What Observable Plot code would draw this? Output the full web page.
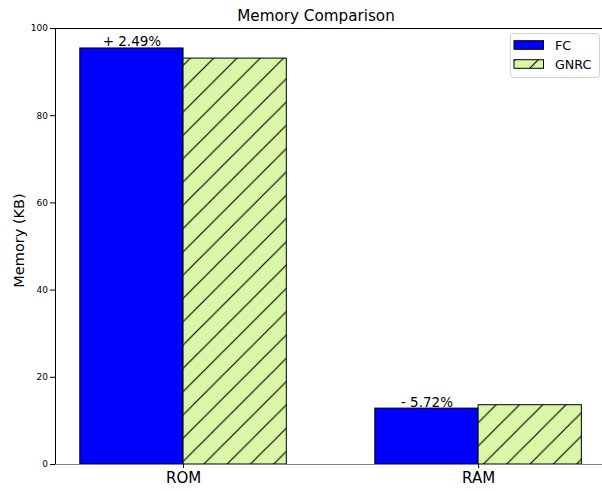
<!DOCTYPE html>
<html>
<head>
<meta charset="utf-8">
<script src="https://cdn.jsdelivr.net/npm/d3@7"></script>
<script src="https://cdn.jsdelivr.net/npm/@observablehq/plot@0.6"></script>
<style>
  body { margin: 0; background: #fff; }
  #chart { width: 602px; height: 491px; }
  #chart svg { font-family: "DejaVu Sans", sans-serif; color: #000; }
</style>
</head>
<body>
<div id="chart"></div>
<script>
// ---- data ----
const categories = ["ROM", "RAM"];
const seriesNames = ["FC", "GNRC"];
const fcValues = [95.42, 12.82];
const gnrcValues = [93.1, 13.6];
const diffLabels = ["+ 2.49%", "- 5.72%"];
const yTicks = [0, 20, 40, 60, 80, 100];
const seriesColors = ["#0000ff", "#d9f7a6"];

// ---- layout parameters ----
const barWidth = 0.35;
const xDomain = [-0.434, 1.42];
const yDomain = [0, 100];

const fcRows = categories.map((c, i) => ({cat: c, i, value: fcValues[i], label: diffLabels[i]}));
const gnrcRows = categories.map((c, i) => ({cat: c, i, value: gnrcValues[i]}));

const hatchSpacing = 23.3;

function defs() {
  const d = d3.create("svg:defs");
  const p = d.append("pattern")
    .attr("id", "hatch")
    .attr("patternUnits", "userSpaceOnUse")
    .attr("width", hatchSpacing)
    .attr("height", hatchSpacing)
    .attr("patternTransform", "translate(15.5,0)");
  const s = hatchSpacing;
  p.append("path")
    .attr("d", `M0,${s} L${s},0 M${-s/2},${s/2} L${s/2},${-s/2} M${s/2},${1.5*s} L${1.5*s},${s/2}`)
    .attr("stroke", "#000")
    .attr("stroke-width", 1.15)
    .attr("fill", "none");
  return d.node();
}

const plot = Plot.plot({
  width: 602,
  height: 491,
  marginTop: 28,
  marginBottom: 27,
  marginLeft: 55,
  marginRight: 0,
  style: {fontFamily: "DejaVu Sans, sans-serif", background: "white", overflow: "visible", color: "#000"},
  x: {type: "linear", domain: xDomain, axis: null},
  y: {domain: yDomain, axis: null},
  marks: [
    defs,
    Plot.rectY(fcRows, {
      x1: d => d.i - barWidth, x2: d => d.i, y1: 0, y2: "value",
      fill: seriesColors[0], stroke: "#000", strokeWidth: 1
    }),
    Plot.rectY(gnrcRows, {
      x1: d => d.i, x2: d => d.i + barWidth, y1: 0, y2: "value",
      fill: seriesColors[1]
    }),
    Plot.rectY(gnrcRows, {
      x1: d => d.i, x2: d => d.i + barWidth, y1: 0, y2: "value",
      fill: "url(#hatch)", stroke: "#000", strokeWidth: 1
    }),
    Plot.text(fcRows, {
      x: d => d.i - barWidth / 2, y: "value", text: "label",
      lineAnchor: "bottom", dy: -2, fontSize: 13.5, fill: "#000"
    }),
    Plot.ruleY([yDomain[1]], {stroke: "#000", strokeWidth: 1}),
    Plot.ruleY([yDomain[0]], {stroke: "#808080", strokeWidth: 1}),
    Plot.ruleX([xDomain[0]], {stroke: "#000", strokeWidth: 1}),
    Plot.axisY({ticks: yTicks, tickSize: 5, tickPadding: 2.5, fontSize: 9, label: null}),
    Plot.axisX({ticks: [0, 1], tickFormat: i => categories[i], tickSize: 4, tickPadding: 3.5, fontSize: 15, label: null})
  ]
});

document.getElementById("chart").appendChild(plot);

// title, y label, legend
const svg = d3.select(plot);
svg.append("text")
  .attr("x", 316).attr("y", 20.5)
  .attr("text-anchor", "middle")
  .attr("font-size", 15.2)
  .attr("fill", "#000")
  .text("Memory Comparison");

svg.append("text")
  .attr("transform", "translate(24,240.5) rotate(-90)")
  .attr("text-anchor", "middle")
  .attr("font-size", 14.5)
  .attr("fill", "#000")
  .text("Memory (KB)");

const lg = svg.append("g").attr("text-anchor", "start");
lg.append("rect")
  .attr("x", 510.5).attr("y", 33.5).attr("width", 89).attr("height", 44)
  .attr("rx", 3).attr("fill", "#fff").attr("fill-opacity", 0.8)
  .attr("stroke", "#d0d0d0").attr("stroke-width", 1);
const swatchY = [40.7, 59.7];
seriesNames.forEach((name, k) => {
  lg.append("rect")
    .attr("x", 514).attr("y", swatchY[k]).attr("width", 29.5).attr("height", 8.6)
    .attr("fill", seriesColors[k]);
  if (k === 1) {
    lg.append("rect")
      .attr("x", 514).attr("y", swatchY[k]).attr("width", 29.5).attr("height", 8.6)
      .attr("fill", "url(#hatch)");
  }
  lg.append("rect")
    .attr("x", 514).attr("y", swatchY[k]).attr("width", 29.5).attr("height", 8.6)
    .attr("fill", "none").attr("stroke", "#000").attr("stroke-width", 1);
  lg.append("text")
    .attr("x", 555).attr("y", swatchY[k] + 8.8)
    .attr("text-anchor", "start")
    .attr("font-size", 12.7).attr("fill", "#000")
    .text(name);
});
</script>
</body>
</html>
